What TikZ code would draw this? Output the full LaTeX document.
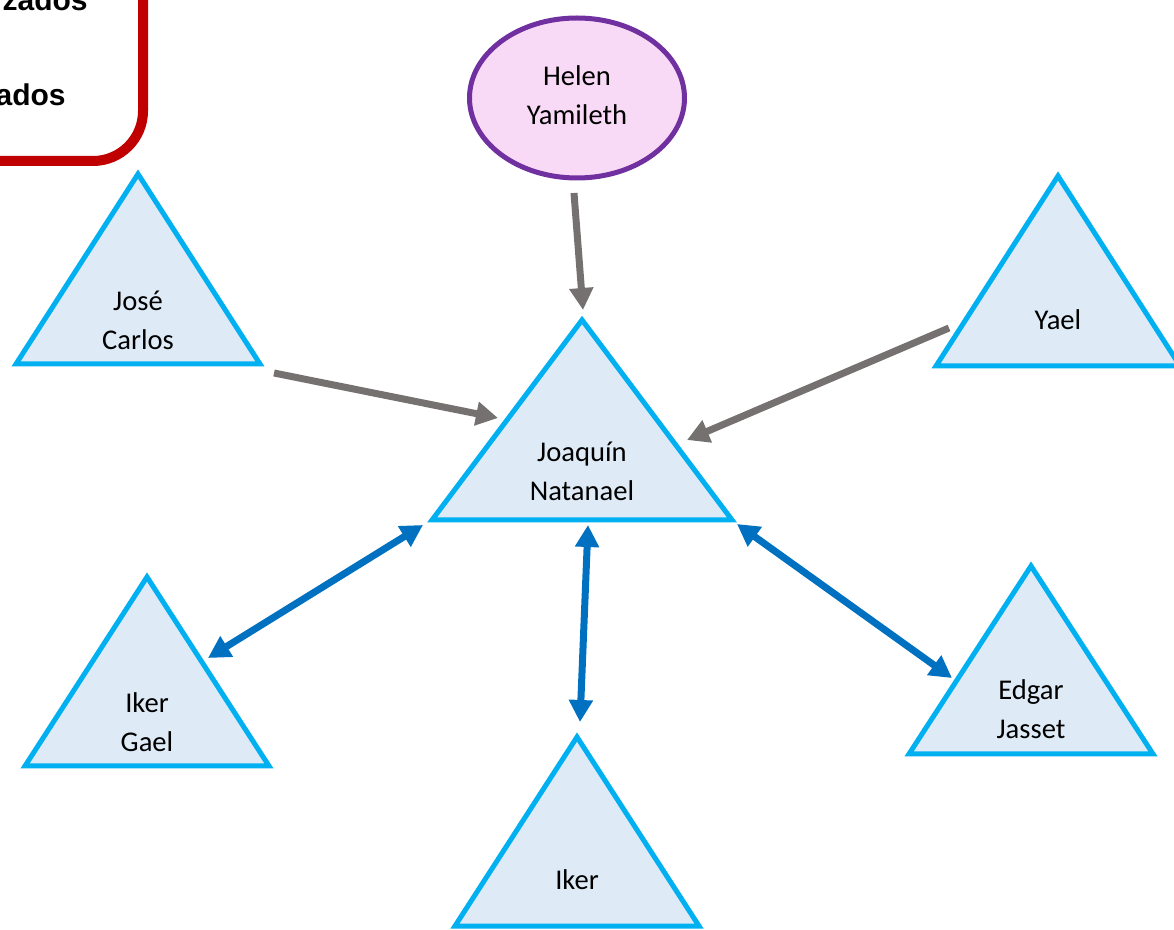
\documentclass[tikz,border=0pt]{standalone}
\usepackage{fontspec}
\setmainfont{Carlito}
\newfontfamily\boxfont{Liberation Sans}
\usetikzlibrary{arrows.meta,shapes.geometric}
\definecolor{triline}{HTML}{00B0F0}
\definecolor{trifill}{HTML}{DEEBF7}
\definecolor{ovline}{HTML}{7030A0}
\definecolor{ovfill}{HTML}{F9DAF6}
\definecolor{arrgray}{HTML}{767171}
\definecolor{arrblue}{HTML}{0070C0}
\definecolor{boxred}{HTML}{C00000}
\tikzset{tri/.style={draw=triline, fill=trifill, line width=2.5pt},
         who/.style={align=center, font=\fontsize{14.3}{19.5}\selectfont},
         boxtext/.style={anchor=base east, inner sep=0pt, font=\boxfont\bfseries\fontsize{15}{17}\selectfont},
         grayarr/.style={draw=arrgray, line width=3.5pt, -{Triangle[width=11.5pt,length=11pt]}},
         bluearr/.style={draw=arrblue, line width=3.5pt,
           {Triangle[width=11.5pt,length=11pt]}-{Triangle[width=11.5pt,length=11pt]}}}

\begin{document}
\begin{tikzpicture}[x=0.5pt, y=-0.5pt]
  \useasboundingbox (0,0) rectangle (1174,930);
  \clip (0,0) rectangle (1174,930);

  % legend box, cut off at the corner
  \draw[boxred, line width=5pt, rounded corners=25pt] (-20,161) -- (143,161) -- (143,-20);
  \node[boxtext] (rej) at (88,11) {zados};
  \node[boxtext] (acc) at (66,106) {ados};

  % triangles
  \draw[tri] (138,174) -- ++(122,190) -- ++(-244,0) -- cycle;
  \draw[tri] (1058,176) -- ++(122,190) -- ++(-244,0) -- cycle;
  \draw[tri] (582,320) -- ++(150,200) -- ++(-300,0) -- cycle;
  \draw[tri] (147,577) -- ++(122,189) -- ++(-244,0) -- cycle;
  \draw[tri] (577,737) -- ++(122,189) -- ++(-244,0) -- cycle;
  \draw[tri] (1031,566) -- ++(122,188) -- ++(-244,0) -- cycle;

  \node[draw=ovline, fill=ovfill, line width=2.5pt, ellipse, minimum width=107.5pt,
        minimum height=80pt, inner sep=0pt] (helen) at (577,98) {};
  \node[who] (helentext) at (577,95) {Helen\\Yamileth};

  \node[who] (jose) at (138,320) {José\\Carlos};
  \node[who] (yael) at (1058,320) {Yael};
  \node[who] (joaquin) at (582,471) {Joaquín\\Natanael};
  \node[who] (ikergael) at (147,722) {Iker\\Gael};
  \node[who] (iker) at (577,880) {Iker};
  \node[who] (edgar) at (1031,709) {Edgar\\Jasset};

  % arrow ends
  \coordinate (helen-out) at (574,193);
  \coordinate (jose-out) at (274,373);
  \coordinate (yael-out) at (949,328);
  \coordinate (jq-top) at (583,310);
  \coordinate (jq-left) at (498,418);
  \coordinate (jq-right) at (687,440);
  \coordinate (jq-sw) at (423,525);
  \coordinate (jq-s) at (588,525);
  \coordinate (jq-se) at (737,524);
  \coordinate (ikergael-in) at (208,658);
  \coordinate (iker-in) at (580,722);
  \coordinate (edgar-in) at (952,678);

  \draw[grayarr] (helen-out) -- (jq-top);
  \draw[grayarr] (jose-out) -- (jq-left);
  \draw[grayarr] (yael-out) -- (jq-right);
  \draw[bluearr] (jq-sw) -- (ikergael-in);
  \draw[bluearr] (jq-s) -- (iker-in);
  \draw[bluearr] (jq-se) -- (edgar-in);
\end{tikzpicture}
\end{document}
